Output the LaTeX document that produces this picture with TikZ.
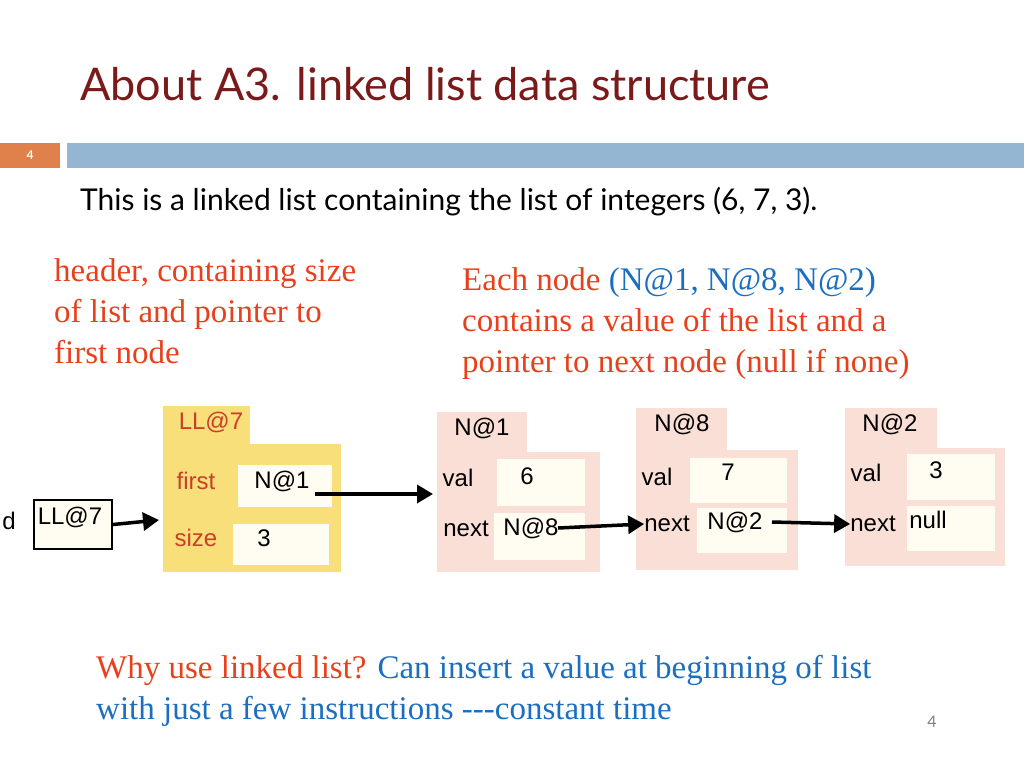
\documentclass[tikz,border=0pt]{standalone}
\usepackage{fontspec}
\setmainfont{Liberation Serif}
\newfontfamily\titlef{Lato}
\newfontfamily\arialf{Liberation Sans}
\usetikzlibrary{arrows.meta}
\definecolor{titlered}{HTML}{7A1A1A}
\definecolor{ored}{HTML}{E8401C}
\definecolor{tblue}{HTML}{1C6FC0}
\definecolor{barblue}{HTML}{94B6D2}
\definecolor{barorange}{HTML}{E0804A}
\definecolor{ylw}{HTML}{F8DF7A}
\definecolor{pnk}{HTML}{F9DFD6}
\definecolor{fld}{HTML}{FFFCF2}
\definecolor{llred}{HTML}{C8402A}
\tikzset{
 x=1pt,y=-1pt,
 fieldbox/.style={fill=fld,draw=none},
 dlabel/.style={font=\arialf\fontsize{24}{26}\selectfont,inner sep=0pt},
 conn/.style={-{Triangle[length=16pt,width=18pt]},line width=3.5pt},
 bodytext/.style={font=\fontsize{33}{41}\selectfont,anchor=north west,inner sep=0pt,align=left}
}
\begin{document}
\begin{tikzpicture}
\useasboundingbox (0,0) rectangle (1024,768);
\node[anchor=base west,inner sep=0pt,text=titlered,font=\titlef\fontsize{45}{48}\selectfont] (title) at (80,100) {About A3. linked list data structure};
\fill[barorange] (0,143) rectangle (60,168);
\node[text=white,font=\titlef\bfseries\fontsize{12}{14}\selectfont] (pg) at (30,155) {4};
\fill[barblue] (67,143) rectangle (1024,168);
\node[anchor=west,inner sep=0pt,font=\titlef\fontsize{30}{32}\selectfont] (sub) at (80,202) {This is a linked list containing the list of integers (6, 7, 3).};
\node[bodytext,text=ored] (hdr) at (54,258) {header, containing size\\of list and pointer to\\first node};
\node[bodytext,text=ored] (each) at (462,267) {Each node \textcolor{tblue}{(N@1, N@8, N@2)}\\contains a value of the list and a\\pointer to next node (null if none)};
\node[bodytext,text=tblue] (why) at (96,655) {\textcolor{ored}{Why use linked list?} Can insert a value at beginning of list\\with just a few instructions -{}-{}-constant time};
\node[text=gray,font=\titlef\fontsize{16}{18}\selectfont] (pgn) at (932,722) {4};

% d and LL@7 box
\node[dlabel] (d) at (9,521) {d};
\node[draw=black,line width=2pt,fill=fld,minimum width=78pt,minimum height=49pt,anchor=north west,inner sep=0pt] (ref) at (33,499) {};
\node[dlabel] at (70,517) {LL@7};

% header object
\fill[ylw] (163,406) rectangle (250,452);
\fill[ylw] (163,444) rectangle (341,572);
\node[dlabel,text=llred] (llt) at (211,422) {LL@7};
\node[dlabel,text=llred] at (196,481) {first};
\node[fieldbox,anchor=north west,minimum width=94pt,minimum height=42pt] (ffirst) at (238,465) {};
\node[dlabel] at (282,481) {N@1};
\node[dlabel,text=llred] at (196,538) {size};
\node[fieldbox,anchor=north west,minimum width=96pt,minimum height=41pt] (fsize) at (233,524) {};
\node[dlabel] at (264,538) {3};
\coordinate (hdrin) at (159,520);
\draw[conn] (ref.east) -- (hdrin);

% N@1
\fill[pnk] (437,412) rectangle (527,452);
\fill[pnk] (437,452) rectangle (600,572);
\node[dlabel] (n1t) at (482,428) {N@1};
\node[dlabel] at (458,478) {val};
\node[fieldbox,anchor=north west,minimum width=88pt,minimum height=47pt] (v1) at (497,459) {};
\node[dlabel] at (527,476) {6};
\node[dlabel] at (466,529) {next};
\node[fieldbox,anchor=north west,minimum width=91pt,minimum height=47pt] (nx1) at (494,513) {};
\node[dlabel] at (531,528) {N@8};
\coordinate (n1in) at (433,494);
\draw[conn] (315,494) -- (n1in);

% N@8
\fill[pnk] (636,408) rectangle (727,450);
\fill[pnk] (636,450) rectangle (798,570);
\node[dlabel] (n8t) at (682,424) {N@8};
\node[dlabel] at (657,477) {val};
\node[fieldbox,anchor=north west,minimum width=97pt,minimum height=45pt] (v8) at (690,458) {};
\node[dlabel] at (728,472) {7};
\node[dlabel] (nl8) at (667,524) {next};
\node[fieldbox,anchor=north west,minimum width=90pt,minimum height=45pt] (nx8) at (697,508) {};
\node[dlabel] at (735,522) {N@2};
\draw[conn] (558,528) -- (nl8.west);

% N@2
\fill[pnk] (845,408) rectangle (937,448);
\fill[pnk] (845,448) rectangle (1005,566);
\node[dlabel] (n2t) at (890,424) {N@2};
\node[dlabel] at (866,473) {val};
\node[fieldbox,anchor=north west,minimum width=88pt,minimum height=46pt] (v2) at (907,454) {};
\node[dlabel] at (936,470) {3};
\node[dlabel] (nl2) at (873,524) {next};
\node[fieldbox,anchor=north west,minimum width=88pt,minimum height=45pt] (nx2) at (907,506) {};
\node[dlabel] at (928,520) {null};
\draw[conn] (772,522) -- (nl2.west);
\end{tikzpicture}
\end{document}
